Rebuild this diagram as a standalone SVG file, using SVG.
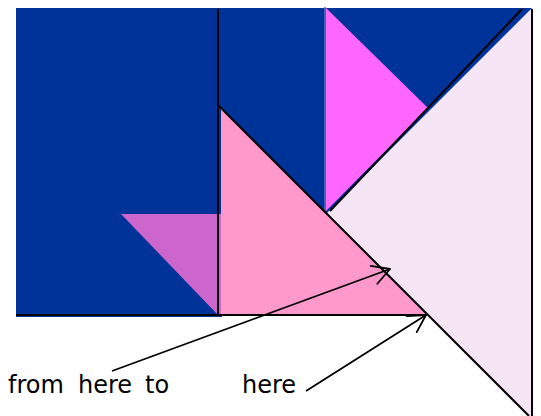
<svg xmlns="http://www.w3.org/2000/svg" width="541" height="416" viewBox="0 0 541 416">
  <defs>
    <marker id="open" markerUnits="userSpaceOnUse" markerWidth="40" markerHeight="40" viewBox="-20 -20 40 40" refX="0" refY="0" orient="auto" overflow="visible">
      <path d="M-17,-9.5 L0,0 L-17,9.5" fill="none" stroke="#000" stroke-width="1.8" stroke-linecap="round" stroke-linejoin="round"/>
    </marker>
    <style>
      .edge { stroke: #000; stroke-width: 2; fill: none; }
      .arrow { stroke: #000; stroke-width: 1.8; fill: none; marker-end: url(#open); }
      .label { font-family: "DejaVu Sans", "Liberation Sans", sans-serif; font-size: 24px; fill: #000; }
    </style>
  </defs>
  <rect width="541" height="416" fill="#fff"/>

  <g id="blue-square">
    <polygon points="16,8 532,8 532,200 427,315 222,315 222,317 16,317" fill="#003399"/>
  </g>
  <g id="magenta-triangle">
    <polygon points="326,8 428,108 326,211" fill="#FF66FF"/>
    <line x1="325" y1="7" x2="325" y2="211" stroke="#5577BB" stroke-width="1.5"/>
  </g>
  <g id="purple-triangle">
    <polygon points="121,214 221,214 221,315 218,315" fill="#CC66CC"/>
  </g>
  <g id="pink-triangle">
    <polygon points="221,108 221,315 427,315" fill="#FF99CC"/>
  </g>
  <g id="lightpink-triangle">
    <polygon points="327,213 532,8 532,418 530,418" fill="#F6E5F4"/>
  </g>

  <g id="edges">
    <line class="edge" x1="218" y1="9" x2="218" y2="315"/>
    <line class="edge" x1="16" y1="315" x2="427" y2="315"/>
    <line class="edge" x1="218" y1="105" x2="529" y2="416"/>
    <line class="edge" x1="522" y1="9" x2="330" y2="211"/>
    <line class="edge" x1="532" y1="9" x2="532" y2="416"/>
  </g>

  <g id="connectors">
    <line class="arrow" x1="112" y1="371" x2="390" y2="269"/>
    <line class="arrow" x1="306" y1="391" x2="426" y2="315"/>
  </g>

  <g id="labels">
    <text class="label" y="393"><tspan x="8">from</tspan> <tspan x="78">here</tspan> <tspan x="145">to</tspan></text>
    <text class="label" x="242" y="393">here</text>
  </g>
</svg>
